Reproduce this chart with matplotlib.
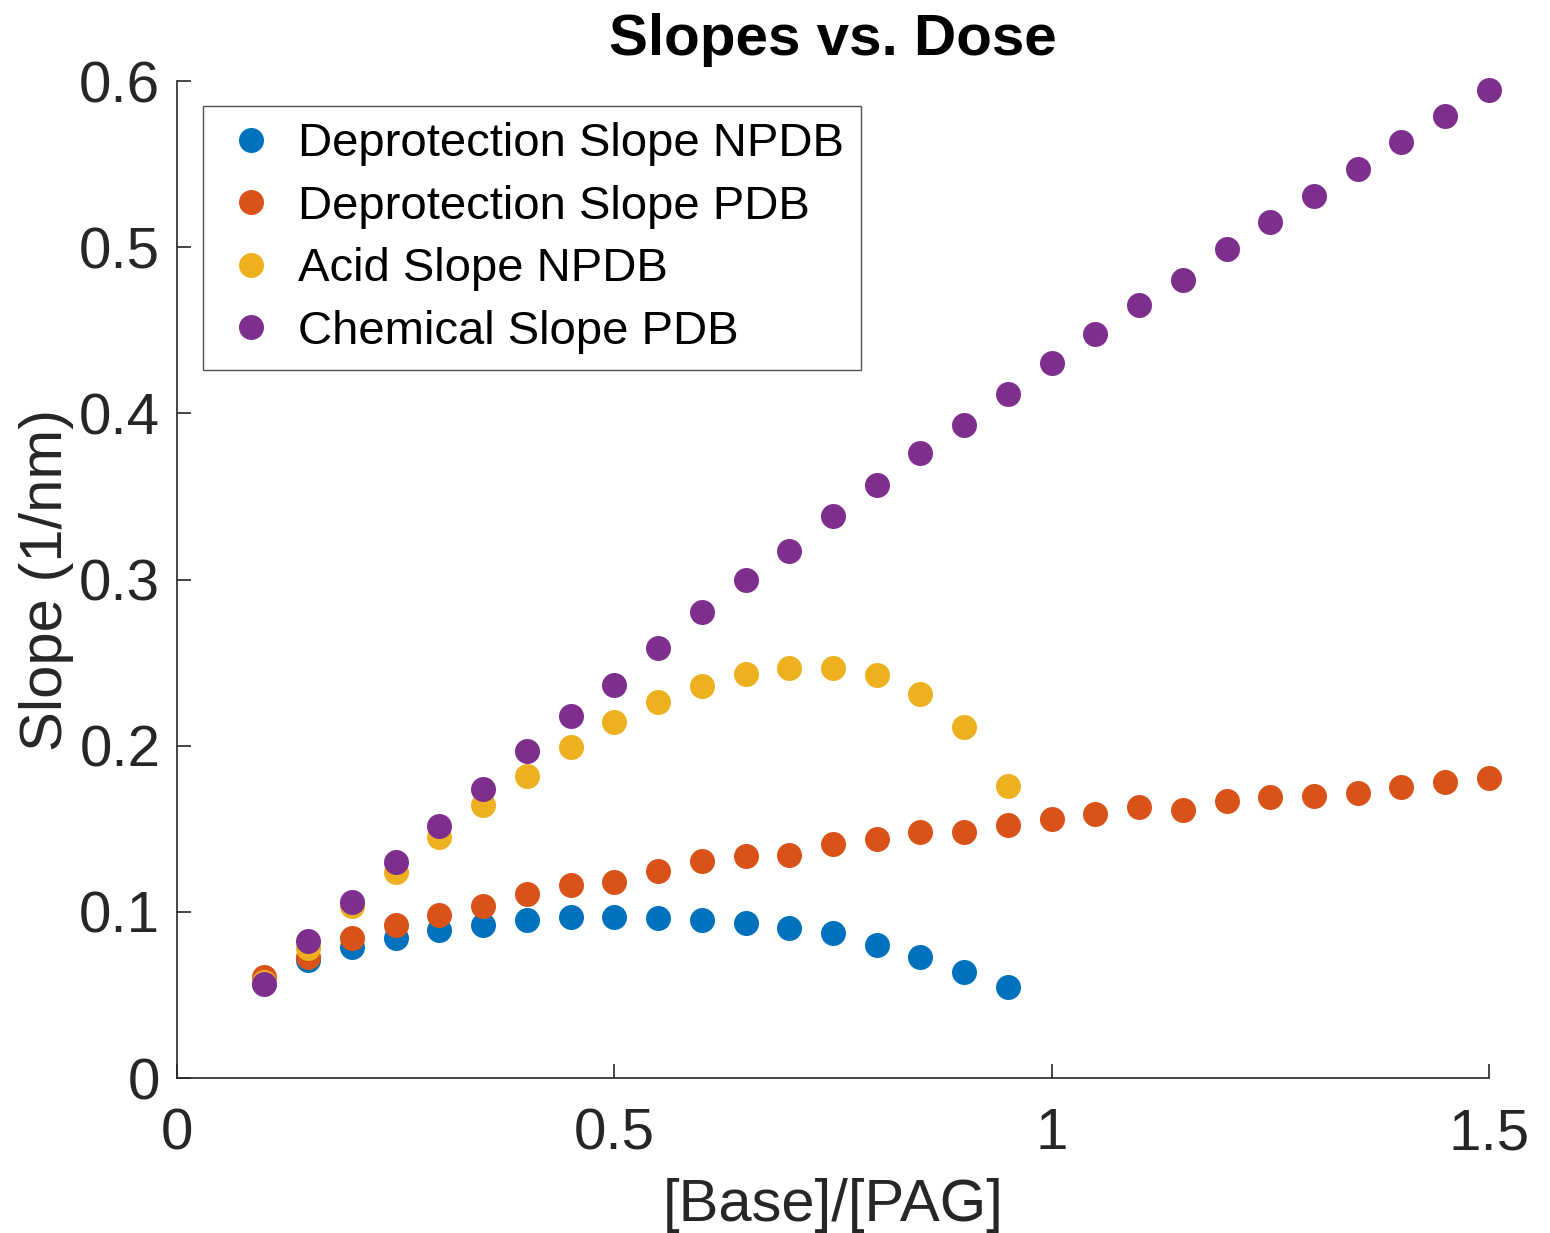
import matplotlib

matplotlib.use("Agg")
import matplotlib.pyplot as plt
import numpy as np

plt.rcParams["font.family"] = ["Liberation Sans", "DejaVu Sans"]

AXIS_GRAY = "#262626"

dose_short = np.round(np.arange(0.10, 0.951, 0.05), 2)
dose_long = np.round(np.arange(0.10, 1.501, 0.05), 2)

deprot_npdb = [0.057, 0.071, 0.079, 0.084, 0.089, 0.092, 0.095, 0.097, 0.097,
               0.096, 0.095, 0.093, 0.090, 0.087, 0.080, 0.073, 0.064, 0.055]
deprot_pdb = [0.061, 0.073, 0.084, 0.092, 0.098, 0.1035, 0.111, 0.116, 0.118,
              0.1245, 0.1306, 0.1336, 0.134, 0.141, 0.144, 0.148, 0.148, 0.152,
              0.156, 0.159, 0.163, 0.161, 0.167, 0.169, 0.170, 0.1715, 0.175,
              0.178, 0.1805]
acid_npdb = [0.058, 0.078, 0.1035, 0.124, 0.145, 0.164, 0.182, 0.199, 0.214,
             0.226, 0.236, 0.243, 0.247, 0.247, 0.2425, 0.231, 0.211, 0.176]
chem_pdb = [0.0566, 0.0824, 0.106, 0.130, 0.1517, 0.174, 0.197, 0.218, 0.2365,
            0.259, 0.2804, 0.2997, 0.317, 0.338, 0.357, 0.376, 0.393, 0.4116,
            0.430, 0.448, 0.465, 0.480, 0.499, 0.515, 0.531, 0.547, 0.563,
            0.579, 0.5946]

series = [
    (dose_short, deprot_npdb, "#0072BD", "Deprotection Slope NPDB"),
    (dose_long, deprot_pdb, "#D95319", "Deprotection Slope PDB"),
    (dose_short, acid_npdb, "#EDB120", "Acid Slope NPDB"),
    (dose_long, chem_pdb, "#7E2F8E", "Chemical Slope PDB"),
]

fig = plt.figure(figsize=(15.5, 12.33), dpi=100)
ax = fig.add_axes([0.1142, 0.1257, 0.8464, 0.8086])

for x, y, color, label in series:
    ax.plot(x, y, linestyle="none", marker="o", markersize=18,
            markeredgewidth=0, color=color, label=label, clip_on=False)

ax.set_xlim(0, 1.5)
ax.set_ylim(0, 0.6)
ax.set_xticks([0, 0.5, 1, 1.5])
ax.set_xticklabels(["0", "0.5", "1", "1.5"])
ax.set_yticks([0, 0.1, 0.2, 0.3, 0.4, 0.5, 0.6])
ax.set_yticklabels(["0", "0.1", "0.2", "0.3", "0.4", "0.5", "0.6"])

for side in ("top", "right"):
    ax.spines[side].set_visible(False)
for side in ("left", "bottom"):
    ax.spines[side].set_color(AXIS_GRAY)
    ax.spines[side].set_linewidth(1.2)

ax.tick_params(direction="in", length=10, width=1.2, colors=AXIS_GRAY,
               labelsize=42)
ax.tick_params(axis="y", pad=12)
ax.tick_params(axis="x", pad=21)

ax.set_xlabel("[Base]/[PAG]", fontsize=43, color=AXIS_GRAY, labelpad=12)
ax.set_ylabel("Slope (1/nm)", fontsize=43, color=AXIS_GRAY, labelpad=4)
ax.set_title("Slopes vs. Dose", fontsize=42, fontweight="bold",
             y=1.0, pad=18.5)

leg = ax.legend(loc="upper left", bbox_to_anchor=(0.0198, 0.975), fontsize=34,
                frameon=True, fancybox=False, borderpad=0.35,
                handletextpad=0.33, labelspacing=0.39, handlelength=1.34,
                borderaxespad=0)
leg.get_frame().set_edgecolor(AXIS_GRAY)
leg.get_frame().set_linewidth(1.0)

fig.savefig("out.png", dpi=100)
